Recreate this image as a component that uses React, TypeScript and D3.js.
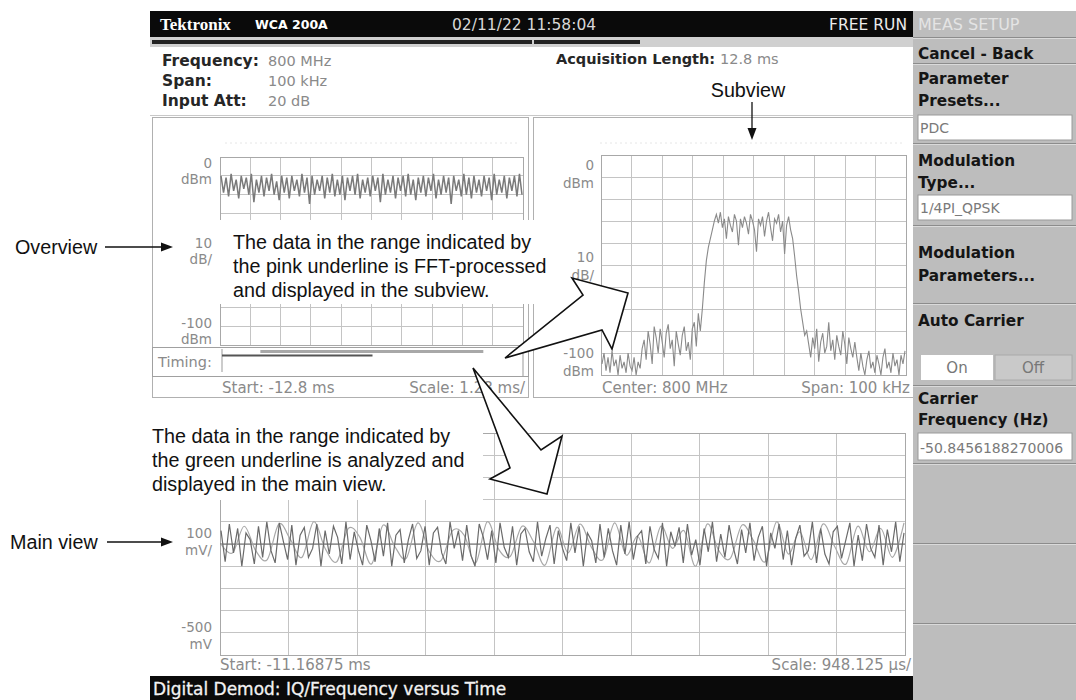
import React from "react";
import * as d3 from "d3";

const SCREEN_FONT = "'DejaVu Sans', Verdana, sans-serif";
const NOTE_FONT = "'Liberation Sans', Arial, Helvetica, sans-serif";

// ---------- data ----------
// Overview: power vs time (dBm), dense band between about -9 and -25 dBm
const overviewPower = [
  -10, -19, -11, -21, -9, -18, -12, -22, -10, -17, -11, -20, -9, -24, -12, -19, -10, -21, -11, -18,
  -9, -20, -13, -23, -10, -19, -11, -22, -10, -18, -12, -21, -9, -19, -11, -25, -10, -20, -12, -18,
  -10, -22, -11, -19, -9, -21, -12, -20, -10, -23, -11, -18, -10, -20, -9, -22, -12, -19, -11, -21,
  -10, -18, -11, -24, -9, -20, -12, -19, -10, -22, -11, -18, -10, -21, -9, -20, -12, -23, -11, -19,
  -10, -21, -11, -18, -9, -22, -12, -20, -10, -19, -11, -25, -10, -18, -12, -21, -9, -20, -11, -22,
  -10, -19, -12, -21, -10, -18, -11, -23, -9, -20, -12, -19, -10, -22, -11, -18, -10, -21, -9, -20,
];

// Subview: spectrum (dBm) across the 100 kHz span
const spectrumPower = [
  -95, -90, -98, -92, -99, -89, -96, -93, -100, -91, -97, -94, -99, -90, -96, -98, -92, -100, -94, -97,
  -88, -84, -93, -80, -86, -95, -78, -83, -90, -79, -85, -92, -81, -77, -88, -84, -96, -80, -86, -91,
  -82, -78, -89, -85, -93, -79, -76, -87, -72, -80,
  -70, -58, -48, -42, -38, -34, -30,
  -27, -31, -26, -33, -29, -38, -28, -32, -35, -27, -30, -41, -29, -33, -28, -31, -36, -27, -30,
  -34, -44, -29, -32, -28, -37, -30, -26, -33, -39, -29, -31, -27, -35, -30, -45, -32, -28, -34,
  -38, -46, -55, -62, -70, -76, -82,
  -80, -86, -92, -83, -88, -79, -94, -85, -81, -90, -87, -76, -89, -84, -93, -82, -87, -91, -80,
  -86, -95, -83, -88, -92, -85,
  -92, -98, -90, -96, -100, -93, -89, -97, -94, -99, -91, -95, -100, -92, -88, -97, -94, -99, -90,
  -96, -93, -100, -91, -95, -89,
];

// Main view: IQ versus time (mV)
const mainI = [
  60, -80, 90, -40, 70, -100, 50, 20, -90, 80,
  -60, 100, -30, -85, 95, 10, -70, 85, -95, 40,
  75, -60, -20, 90, -100, 60, -45, 80, 30, -90,
  100, -70, 55, -30, -95, 85, 15, -80, 70, -55,
  95, -100, 40, 65, -85, 20, 90, -65, -30, 80,
  -95, 50, 75, -40, -90, 100, -20, 60, -75, 85,
  -50, -100, 90, 30, -70, 60, -85, 95, -15, -60,
  80, -95, 45, 70, -35, -80, 100, -55, 25, 85,
  -90, 60, -20, -75, 95, -40, 80, -100, 50, 15,
  -85, 90, -60, 70, -30, -95, 85, -45, 100, -70,
  35, 60, -90, 80, -25, -65, 95, -100, 55, -10,
  75, -85, 90, -50, 20, -95, 70, -35, 100, -80,
  45, -60, 85, -15, -90, 65, -40, 95, -75, 30,
  80, -100, 50, -20, 90, -70, 60, -95, 25, 85,
  -55, -30, 100, -85, 70, -45, -90, 55, 80, -65,
  15, 95, -100, 40, -75, 90, -20, -60, 85, -95,
  65, -35, 100, -80, 50,
];
const mainQ = [
  0, -40, 80, -30, -70, 90, 20, -60, 100, -20, -80, 70, 30, -90, 85, -10, -65, 95, -35, -75,
  60, 40, -85, 100, -25, -55, 80, 10, -95, 75, -40, 90, -15, -70, 95, -50, 35, -85, 80, -20,
  60, -100, 90, -30, -65, 85, 15, -80, 100, -45, 55, -70, 90, -10, -90, 80, -35, 70, -60, 95,
];

// timing band ranges (ms)
const acquisitionRange = [-12.8, 0];
const fftRange = [-12.8, -6.4];
const mainRange = [-11.16875, -1.6875];

const headerRows = [
  ["Frequency:", "800 MHz"],
  ["Span:", "100 kHz"],
  ["Input Att:", "20 dB"],
];
const overviewYLabels = [["0", "dBm"], ["10", "dB/"], ["-100", "dBm"]];
const subviewYLabels = [["0", "dBm"], ["10", "dB/"], ["-100", "dBm"]];
const mainYLabels = [["100", "mV/"], ["-500", "mV"]];
const noteOverview = [
  "The data in the range indicated by",
  "the pink underline is FFT-processed",
  "and displayed in the subview.",
];
const noteMain = [
  "The data in the range indicated by",
  "the green underline is analyzed and",
  "displayed in the main view.",
];
const divisions = d3.range(0, 11);

// ---------- helpers ----------
function Grid({ x0, x1, y0, y1 }: { x0: number; x1: number; y0: number; y1: number }) {
  const gx = d3.scaleLinear().domain([0, 10]).range([x0, x1]);
  const gy = d3.scaleLinear().domain([0, 10]).range([y0, y1]);
  return (
    <g stroke="#c4c4c4" strokeWidth={1} fill="none" shapeRendering="crispEdges">
      {divisions.map((d) => (
        <line key={"v" + d} x1={gx(d)} x2={gx(d)} y1={y0} y2={y1} />
      ))}
      {divisions.map((d) => (
        <line key={"h" + d} x1={x0} x2={x1} y1={gy(d)} y2={gy(d)} />
      ))}
      <rect x={x0} y={y0} width={x1 - x0} height={y1 - y0} stroke="#a8a8a8" />
    </g>
  );
}

function Arrow({ x1, y1, x2, y2 }: { x1: number; y1: number; x2: number; y2: number }) {
  const a = Math.atan2(y2 - y1, x2 - x1);
  const L = 12, W = 4.5;
  const bx = x2 - L * Math.cos(a), by = y2 - L * Math.sin(a);
  const p = [
    [x2, y2],
    [bx + W * Math.sin(a), by - W * Math.cos(a)],
    [bx - W * Math.sin(a), by + W * Math.cos(a)],
  ];
  return (
    <g>
      <line x1={x1} y1={y1} x2={bx} y2={by} stroke="#111" strokeWidth={1.3} />
      <polygon points={p.map((q) => q.join(",")).join(" ")} fill="#111" />
    </g>
  );
}

function Note({ x, y, t, anchor }: { x: number; y: number; t: string; anchor?: string }) {
  return (
    <text
      transform={`translate(${x},${y}) scale(0.94,1)`}
      fontFamily={NOTE_FONT}
      fontSize={21}
      fill="#111"
      textAnchor={anchor || "start"}
    >
      {t}
    </text>
  );
}

export default function App() {
  // overview
  const ovGrid = { x0: 220, x1: 523, y0: 157, y1: 345 };
  const ovX = d3.scaleLinear().domain([0, overviewPower.length - 1]).range([ovGrid.x0 + 1, ovGrid.x1 - 1]);
  const ovY = d3.scaleLinear().domain([0, -100]).range([ovGrid.y0, ovGrid.y1]);
  const ovLine = d3.line<number>().x((_, i) => ovX(i)).y((d) => ovY(d));
  const tScale = d3.scaleLinear().domain(acquisitionRange).range([222, 523]);

  // subview
  const spGrid = { x0: 601, x1: 906, y0: 155, y1: 375 };
  const spX = d3.scaleLinear().domain([0, spectrumPower.length - 1]).range([spGrid.x0 + 1, spGrid.x1 - 1]);
  const spY = d3.scaleLinear().domain([0, -100]).range([spGrid.y0, spGrid.y1]);
  const spLine = d3.line<number>().x((_, i) => spX(i)).y((d) => spY(d));

  // main
  const mGrid = { x0: 220, x1: 905, y0: 433, y1: 655 };
  const mXi = d3.scaleLinear().domain([0, mainI.length - 1]).range([mGrid.x0 + 1, mGrid.x1 - 1]);
  const mXq = d3.scaleLinear().domain([0, mainQ.length - 1]).range([mGrid.x0 + 1, mGrid.x1 - 1]);
  const mY = d3.scaleLinear().domain([500, -500]).range([mGrid.y0, mGrid.y1]);
  const mLineI = d3.line<number>().x((_, i) => mXi(i)).y((d) => mY(d));
  const mLineQ = d3.line<number>().x((_, i) => mXq(i)).y((d) => mY(d)).curve(d3.curveCardinal);

  const gray = "#8a8a8a";
  const dark = "#262626";

  const arrow1 = [[505, 358], [583, 295], [572, 278], [628, 293], [612, 349], [602, 330]];
  const arrow2 = [[473, 368], [510, 468], [490, 479], [547, 494], [562, 436], [541, 450]];

  const menuSeparators = [37, 63, 143, 225, 303, 385, 463, 543, 623];
  const menuLabels: [string, number][] = [
    ["Cancel - Back", 59],
    ["Parameter", 84],
    ["Presets...", 106],
    ["Modulation", 166],
    ["Type...", 188],
    ["Modulation", 258],
    ["Parameters...", 281],
    ["Auto Carrier", 326],
    ["Carrier", 404],
    ["Frequency (Hz)", 425],
  ];
  const menuBoxes: [string, number, number][] = [
    ["PDC", 115, 140],
    ["1/4PI_QPSK", 195, 220],
    ["-50.8456188270006", 433, 460],
  ];

  return (
    <svg
      width={1076}
      height={700}
      style={{ position: "absolute", left: 0, top: 0, background: "#fff" }}
      fontFamily={SCREEN_FONT}
    >
      <rect x={0} y={0} width={1076} height={700} fill="#fff" />

      {/* top bar */}
      <rect x={150} y={11} width={763} height={26} fill="#0a0a0a" />
      <text x={160} y={30} fill="#fff" fontFamily="'Liberation Serif', serif" fontWeight="bold" fontSize={17}>
        Tektronix
      </text>
      <text x={255} y={29} fill="#fff" fontWeight="bold" fontSize={12.5}>
        WCA 200A
      </text>
      <text x={452} y={30} fill="#d8d8d8" fontSize={15.5}>
        02/11/22 11:58:04
      </text>
      <text x={907} y={30} fill="#ececec" fontSize={15.5} textAnchor="end">
        FREE RUN
      </text>

      {/* progress strip */}
      <rect x={150} y={37} width={763} height={10} fill="#d0d0d0" />
      <rect x={152} y={40} width={380} height={4} fill="#222" />
      <rect x={534} y={40} width={106} height={4} fill="#222" />

      {/* header */}
      {headerRows.map((r, i) => (
        <g key={r[0]}>
          <text x={162} y={66 + i * 20} fill={dark} fontWeight="bold" fontSize={15.5}>
            {r[0]}
          </text>
          <text x={268} y={66 + i * 20} fill={gray} fontSize={14.5}>
            {r[1]}
          </text>
        </g>
      ))}
      <text x={556} y={64} fill={dark} fontWeight="bold" fontSize={14.5}>
        Acquisition Length:
      </text>
      <text x={720} y={64} fill={gray} fontSize={14.5}>
        12.8 ms
      </text>
      <line x1={150} x2={913} y1={115.5} y2={115.5} stroke="#c8c8c8" />

      {/* overview panel */}
      <rect x={152.5} y={117.5} width={376} height={280} fill="none" stroke="#b0b0b0" />
      <line x1={225} x2={520} y1={143} y2={143} stroke="#e6e6e6" strokeDasharray="2,3" />
      <Grid {...ovGrid} />
      <path d={ovLine(overviewPower) || ""} fill="none" stroke="#7a7a7a" strokeWidth={1.5} />
      {overviewYLabels.map((l, i) => {
        const y = [168, 248, 328][i];
        return (
          <g key={"ovl" + i} fill={gray} fontSize={13.5} textAnchor="end">
            <text x={212} y={y}>{l[0]}</text>
            <text x={212} y={y + 16}>{l[1]}</text>
          </g>
        );
      })}
      {/* timing band */}
      <rect x={152.5} y={347.5} width={376} height={29} fill="#fff" stroke="#a0a0a0" />
      <text x={158} y={367} fill={gray} fontSize={14.5}>Timing:</text>
      <line x1={tScale(-12.8)} x2={tScale(-12.8)} y1={349} y2={372} stroke="#999" />
      <line x1={tScale(0)} x2={tScale(0)} y1={349} y2={376} stroke="#999" />
      <line x1={tScale(mainRange[0])} x2={tScale(mainRange[1])} y1={351.5} y2={351.5} stroke="#a8a8a8" strokeWidth={3} />
      <line x1={tScale(fftRange[0])} x2={tScale(fftRange[1])} y1={355.5} y2={355.5} stroke="#555" strokeWidth={2} />
      <text x={222} y={393} fill={gray} fontSize={15}>Start: -12.8 ms</text>
      <text x={525} y={393} fill={gray} fontSize={15} textAnchor="end">Scale: 1.28 ms/</text>

      {/* subview panel */}
      <rect x={533.5} y={117.5} width={380} height={280} fill="none" stroke="#b0b0b0" />
      <line x1={600} x2={905} y1={143} y2={143} stroke="#e6e6e6" strokeDasharray="2,3" />
      <Grid {...spGrid} />
      <path d={spLine(spectrumPower) || ""} fill="none" stroke="#8a8a8a" strokeWidth={1.1} />
      {subviewYLabels.map((l, i) => {
        const y = [170, 262, 358][i];
        return (
          <g key={"spl" + i} fill={gray} fontSize={13.5} textAnchor="end">
            <text x={594} y={y}>{l[0]}</text>
            <text x={594} y={y + 18}>{l[1]}</text>
          </g>
        );
      })}
      <text x={602} y={393} fill={gray} fontSize={15}>Center: 800 MHz</text>
      <text x={910} y={393} fill={gray} fontSize={15} textAnchor="end">Span: 100 kHz</text>

      {/* main view */}
      <Grid {...mGrid} />
      <line x1={mGrid.x0} x2={mGrid.x1} y1={mY(0)} y2={mY(0)} stroke="#666" strokeWidth={1.2} />
      <path d={mLineQ(mainQ) || ""} fill="none" stroke="#a8a8a8" strokeWidth={1.2} />
      <path d={mLineI(mainI) || ""} fill="none" stroke="#6a6a6a" strokeWidth={1.2} />
      {mainYLabels.map((l, i) => {
        const y = [538, 632][i];
        return (
          <g key={"ml" + i} fill={gray} fontSize={13.5} textAnchor="end">
            <text x={212} y={y}>{l[0]}</text>
            <text x={212} y={y + 17}>{l[1]}</text>
          </g>
        );
      })}
      <text x={220} y={670} fill={gray} fontSize={15}>Start: -11.16875 ms</text>
      <text x={911} y={670} fill={gray} fontSize={15} textAnchor="end">Scale: 948.125 µs/</text>

      {/* bottom bar */}
      <rect x={150} y={676} width={763} height={24} fill="#0a0a0a" />
      <text x={153} y={695} fill="#f2f2f2" fontSize={17} stroke="#f2f2f2" strokeWidth={0.3}>
        Digital Demod: IQ/Frequency versus Time
      </text>

      {/* side menu */}
      <rect x={913} y={11} width={163} height={689} fill="#bdbdbd" />
      <text x={918} y={30} fill="#e4e4e4" fontSize={16}>MEAS SETUP</text>
      {menuSeparators.map((y) => (
        <g key={"sep" + y}>
          <line x1={913} x2={1076} y1={y + 0.5} y2={y + 0.5} stroke="#8c8c8c" />
          <line x1={913} x2={1076} y1={y + 1.5} y2={y + 1.5} stroke="#dadada" />
        </g>
      ))}
      {menuLabels.map(([t, y], i) => (
        <text key={"ml" + i} x={918} y={y} fill="#151515" fontSize={15.3} fontWeight="bold">
          {t}
        </text>
      ))}
      {menuBoxes.map(([t, y0, y1]) => (
        <g key={t}>
          <rect x={918} y={y0} width={154} height={y1 - y0} fill="#fff" stroke="#9a9a9a" />
          <text x={920} y={y1 - 7} fill="#7a7a7a" fontSize={14}>{t}</text>
        </g>
      ))}
      <rect x={921} y={355} width={72} height={25} fill="#fff" />
      <rect x={995} y={355} width={77} height={25} fill="#c9c9c9" stroke="#aaa" />
      <text x={957} y={373} fill="#777" fontSize={15} textAnchor="middle">On</text>
      <text x={1033} y={373} fill="#777" fontSize={15} textAnchor="middle">Off</text>

      {/* annotations */}
      <rect x={220} y={220} width={335} height={84} fill="#fff" />
      {noteOverview.map((t, i) => (
        <Note key={"no" + i} x={233} y={249 + i * 24} t={t} />
      ))}
      <rect x={142} y={408} width={341} height={92} fill="#fff" />
      {noteMain.map((t, i) => (
        <Note key={"nm" + i} x={152} y={443 + i * 24} t={t} />
      ))}

      <polygon points={arrow1.map((p) => p.join(",")).join(" ")} fill="#fff" stroke="#111" strokeWidth={1.6} strokeLinejoin="miter" />
      <polygon points={arrow2.map((p) => p.join(",")).join(" ")} fill="#fff" stroke="#111" strokeWidth={1.6} strokeLinejoin="miter" />

      <Note x={15} y={254} t="Overview" />
      <Arrow x1={105} y1={247} x2={173} y2={247} />
      <Note x={10} y={549} t="Main view" />
      <Arrow x1={107} y1={542} x2={173} y2={542} />
      <Note x={748} y={97} t="Subview" anchor="middle" />
      <Arrow x1={752} y1={102} x2={752} y2={140} />
    </svg>
  );
}
